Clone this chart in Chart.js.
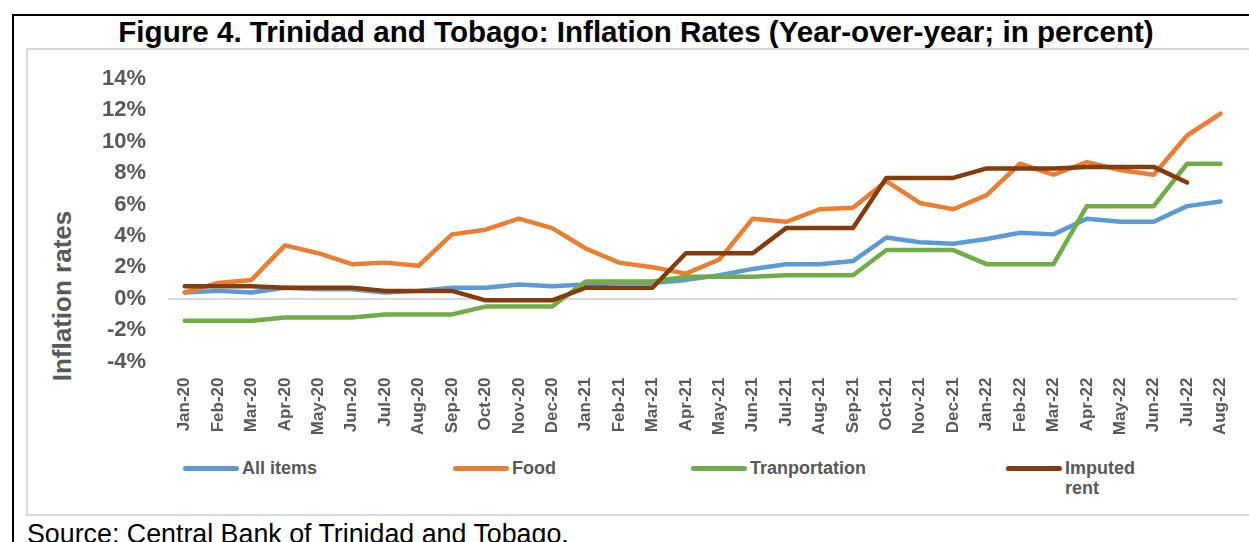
<!DOCTYPE html>
<html>
<head>
<meta charset="utf-8">
<script src="https://cdn.jsdelivr.net/npm/chart.js@4.4.1/dist/chart.umd.min.js"></script>
<style>
  body { margin: 0; width: 1249px; height: 542px; overflow: hidden; background: #fff; font-family: "Liberation Sans", Arial, sans-serif; }
  #frame { position: absolute; left: 12px; top: 14px; width: 1300px; height: 600px; border-left: 2px solid #000; border-top: 2px solid #000; }
  #box { position: absolute; left: 26px; top: 48px; width: 1300px; height: 464px; border: 2px solid #d9d9d9; }
  #title { position: absolute; left: 636px; top: 17px; transform: translateX(-50%); white-space: nowrap; font-size: 29.6px; line-height: 29px; font-weight: bold; color: #000; }
  #ytitle { position: absolute; left: 62px; top: 296px; transform: translate(-50%, -50%) rotate(-90deg); white-space: nowrap; font-size: 26px; line-height: 26px; font-weight: bold; color: #595959; }
  #source { position: absolute; left: 27px; top: 521px; white-space: nowrap; font-size: 26.8px; line-height: 26px; color: #000; }
  canvas { position: absolute; left: 0; top: 0; }
  .leg { position: absolute; font-size: 18px; line-height: 20px; font-weight: bold; color: #595959; }
  .leg i { position: absolute; width: 56px; height: 5px; border-radius: 3px; }
</style>
</head>
<body>
<div id="frame"></div>
<div id="box"></div>
<div id="title">Figure 4. Trinidad and Tobago: Inflation Rates (Year-over-year; in percent)</div>
<div id="ytitle">Inflation rates</div>
<div id="legend"></div>
<div id="source">Source: Central Bank of Trinidad and Tobago.</div>
<canvas id="myChart" width="1249" height="542"></canvas>
<script>
const months = ["Jan-20", "Feb-20", "Mar-20", "Apr-20", "May-20", "Jun-20", "Jul-20", "Aug-20",
  "Sep-20", "Oct-20", "Nov-20", "Dec-20", "Jan-21", "Feb-21", "Mar-21", "Apr-21", "May-21",
  "Jun-21", "Jul-21", "Aug-21", "Sep-21", "Oct-21", "Nov-21", "Dec-21", "Jan-22", "Feb-22",
  "Mar-22", "Apr-22", "May-22", "Jun-22", "Jul-22", "Aug-22"];

const allItems = [0.4, 0.5, 0.4, 0.7, 0.6, 0.6, 0.4, 0.5, 0.7, 0.7, 0.9, 0.8, 0.9, 1.0, 1.0, 1.2,
  1.5, 1.9, 2.2, 2.2, 2.4, 3.9, 3.6, 3.5, 3.8, 4.2, 4.1, 5.1, 4.9, 4.9, 5.9, 6.2];
const food = [0.4, 1.0, 1.2, 3.4, 2.9, 2.2, 2.3, 2.1, 4.1, 4.4, 5.1, 4.5, 3.2, 2.3, 2.0, 1.6,
  2.5, 5.1, 4.9, 5.7, 5.8, 7.5, 6.1, 5.7, 6.6, 8.6, 7.9, 8.7, 8.2, 7.9, 10.4, 11.8];
const transport = [-1.4, -1.4, -1.4, -1.2, -1.2, -1.2, -1.0, -1.0, -1.0, -0.5, -0.5, -0.5, 1.1, 1.1,
  1.1, 1.4, 1.4, 1.4, 1.5, 1.5, 1.5, 3.1, 3.1, 3.1, 2.2, 2.2, 2.2, 5.9, 5.9, 5.9, 8.6, 8.6];
const rent = [0.8, 0.8, 0.8, 0.7, 0.7, 0.7, 0.5, 0.5, 0.5, -0.1, -0.1, -0.1, 0.7, 0.7, 0.7, 2.9,
  2.9, 2.9, 4.5, 4.5, 4.5, 7.7, 7.7, 7.7, 8.3, 8.3, 8.3, 8.4, 8.4, 8.4, 7.4, null];

const seriesNames = ["All items", "Food", "Tranportation", "Imputed rent"];
const seriesColors = ["#5b9bd5", "#ed7d31", "#70ad47", "#843c0c"];
const yTicks = [-4, -2, 0, 2, 4, 6, 8, 10, 12, 14];

// legend, placed like the excel one
const legendSpots = [[183, 468], [453, 468], [691, 468], [1006, 468]];
const legendBox = document.getElementById("legend");
seriesNames.forEach(function (name, i) {
  const el = document.createElement("div");
  el.className = "leg";
  el.style.left = legendSpots[i][0] + "px";
  el.style.top = (legendSpots[i][1] - 10) + "px";
  el.style.paddingLeft = "59px";
  el.style.width = i === 3 ? "130px" : "auto";
  el.innerHTML = '<i style="left:0;top:8px;background:' + seriesColors[i] + '"></i>' +
    (i === 3 ? "Imputed<br>rent" : name);
  legendBox.appendChild(el);
});

const seriesData = [allItems, food, transport, rent];
const gray = "#595959";

new Chart(document.getElementById("myChart"), {
  type: "line",
  data: {
    labels: months,
    datasets: seriesData.map(function (d, i) {
      return {
        label: seriesNames[i],
        data: d,
        borderColor: seriesColors[i],
        backgroundColor: seriesColors[i],
        borderWidth: 4.5,
        pointRadius: 0,
        tension: 0,
        borderCapStyle: "round",
        borderJoinStyle: "round",
        order: 4 - i,
      };
    }),
  },
  options: {
    responsive: false,
    animation: false,
    devicePixelRatio: 1,
    layout: { padding: { left: 0, top: 79, right: 5, bottom: 0 } },
    plugins: { legend: { display: false }, tooltip: { enabled: false } },
    scales: {
      x: {
        offset: true,
        grid: { display: false },
        border: { display: false },
        ticks: {
          autoSkip: false,
          minRotation: 90,
          maxRotation: 90,
          padding: 8,
          color: gray,
          font: { family: "Liberation Sans", size: 17, weight: "bold" },
        },
        afterFit: function (scale) { scale.height = 180.5; },
      },
      y: {
        min: yTicks[0],
        max: yTicks[yTicks.length - 1],
        afterBuildTicks: function (scale) {
          scale.ticks = yTicks.map(function (v) { return { value: v }; });
        },
        grid: {
          drawTicks: false,
          lineWidth: 2,
          color: function (c) { return c.tick && c.tick.value === 0 ? "#d9d9d9" : "rgba(0,0,0,0)"; },
        },
        border: { display: false },
        ticks: {
          padding: 22,
          color: gray,
          font: { family: "Liberation Sans", size: 22, weight: "bold" },
          callback: function (v) { return v + "%"; },
        },
        afterFit: function (scale) { scale.width = 168; },
      },
    },
  },
});
</script>
</body>
</html>
